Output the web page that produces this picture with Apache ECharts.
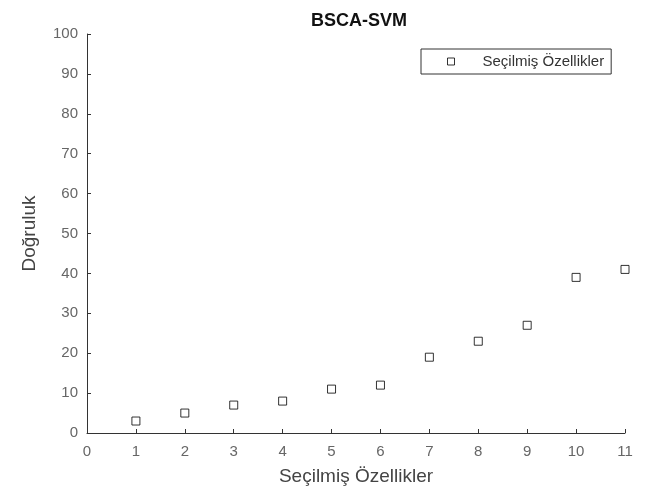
<!DOCTYPE html>
<html>
<head>
<meta charset="utf-8">
<script src="https://cdn.jsdelivr.net/npm/echarts@6/dist/echarts.min.js"></script>
<style>html,body{margin:0;padding:0;background:#fff;}#c{width:645px;height:493px;}</style>
</head>
<body>
<div id="c"></div>
<script>
var xValues = [1, 2, 3, 4, 5, 6, 7, 8, 9, 10, 11];
var accuracy = [3, 5, 7, 8, 11, 12, 19, 23, 27, 39, 41];
var seriesName = 'Seçilmiş Özellikler';
var titleText = 'BSCA-SVM';
var xLabel = 'Seçilmiş Özellikler';
var yLabel = 'Doğruluk';

var chart = echarts.init(document.getElementById('c'));
var pts = xValues.map(function (x, i) { return [x, accuracy[i]]; });
var font = 'Liberation Sans, Arial, sans-serif';
chart.setOption({
  animation: false,
  backgroundColor: '#fff',
  title: {
    text: titleText, left: 354, top: 7, textAlign: 'center',
    textStyle: { fontFamily: font, fontSize: 18, fontWeight: 'bold', color: '#111' }
  },
  legend: {
    left: 421, top: 49,
    padding: [5, 7, 5, 26],
    borderColor: '#333', borderWidth: 1,
    backgroundColor: '#fff',
    itemWidth: 7, itemHeight: 7,
    icon: 'rect',
    itemStyle: { color: '#fff', borderColor: '#000', borderWidth: 1 },
    textStyle: { fontFamily: font, fontSize: 15, color: '#333', padding: [0, 0, 0, 23] },
    data: [seriesName]
  },
  grid: { left: 87, right: 20, top: 34, bottom: 60 },
  xAxis: {
    type: 'value', min: 0, max: 11, interval: 1,
    name: xLabel, nameLocation: 'middle', nameGap: 34,
    nameTextStyle: { fontFamily: font, fontSize: 19, color: '#444' },
    axisLine: { lineStyle: { color: '#333' } },
    axisTick: { inside: true, length: 4, lineStyle: { color: '#333' } },
    axisLabel: { fontFamily: font, fontSize: 15, color: '#666', margin: 11 },
    splitLine: { show: false }
  },
  yAxis: {
    type: 'value', min: 0, max: 100, interval: 10,
    name: yLabel, nameLocation: 'middle', nameGap: 48,
    nameTextStyle: { fontFamily: font, fontSize: 19, color: '#444' },
    axisLine: { show: true, lineStyle: { color: '#333' } },
    axisTick: { show: true, inside: true, length: 4, lineStyle: { color: '#333' } },
    axisLabel: { fontFamily: font, fontSize: 15, color: '#666', margin: 9 },
    splitLine: { show: false }
  },
  series: [{
    name: seriesName, type: 'scatter', data: pts,
    symbol: 'rect', symbolSize: 8,
    itemStyle: { color: '#fff', borderColor: '#000', borderWidth: 1 }
  }]
});
</script>
</body>
</html>
